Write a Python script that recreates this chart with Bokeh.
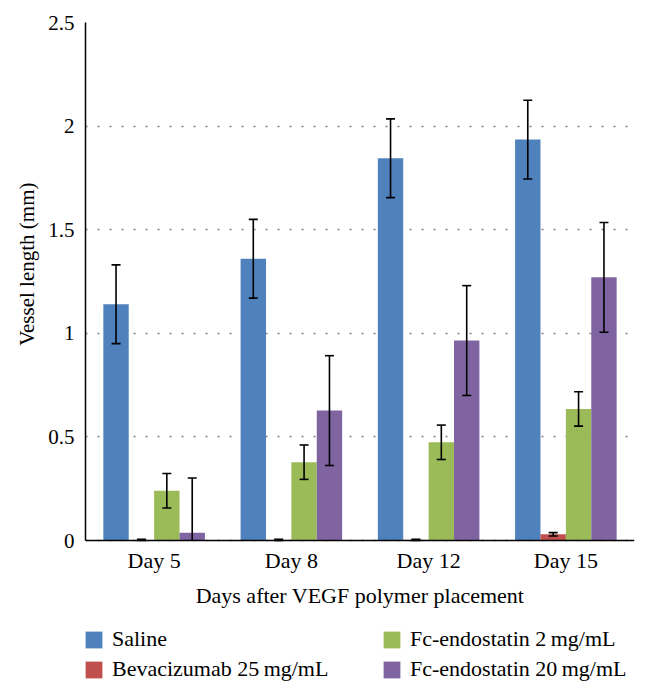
from bokeh.plotting import figure
from bokeh.models import (ColumnDataSource, FactorRange, Range1d, Legend, LegendItem,
                          FixedTicker, CategoricalAxis, Title)
from bokeh.transform import dodge
from bokeh.embed import file_html
from bokeh.resources import INLINE

# ---- data ----
days = ["Day 5", "Day 8", "Day 12", "Day 15"]
series_names = ["Saline", "Bevacizumab 25\u2009mg/mL",
                "Fc-endostatin 2\u2009mg/mL", "Fc-endostatin 20\u2009mg/mL"]
saline = [1.14, 1.36, 1.845, 1.935]
saline_err = [0.19, 0.19, 0.19, 0.19]
bevacizumab = [0.003, 0.003, 0.003, 0.03]
bevacizumab_err = [0.003, 0.003, 0.003, 0.008]
fc_endo_2 = [0.24, 0.378, 0.474, 0.635]
fc_endo_2_err = [0.083, 0.083, 0.083, 0.083]
fc_endo_20 = [0.037, 0.627, 0.965, 1.27]
fc_endo_20_err = [0.265, 0.265, 0.265, 0.265]
y_ticks = [0, 0.5, 1, 1.5, 2, 2.5]
y_tick_labels = ["0", "0.5", "1", "1.5", "2", "2.5"]

colors = ["#4F81BD", "#C0504D", "#9BBB59", "#8064A2"]
FONT = "Liberation Serif"

# layout (pixels)
W, H = 648, 695
LEFT, RIGHT, TOP = 85, 14, 22
ZERO_PX = 540                     # pixel row of the value axis origin
Y_MAX = 2.5
px_per_unit = (ZERO_PX - TOP) / Y_MAX
y_min = -(H - ZERO_PX) / px_per_unit   # room below the axis for labels & legend

p = figure(x_range=FactorRange(factors=days), y_range=Range1d(y_min, Y_MAX),
           width=W, height=H, output_backend="svg", toolbar_location=None,
           x_axis_location=None,
           min_border_left=LEFT, min_border_right=RIGHT, min_border_top=TOP,
           min_border_bottom=0)
p.outline_line_color = None
p.background_fill_color = "white"

bw = 0.185
offsets = [-1.5 * bw, -0.5 * bw, 0.5 * bw, 1.5 * bw]
vals = [saline, bevacizumab, fc_endo_2, fc_endo_20]
errs = [saline_err, bevacizumab_err, fc_endo_2_err, fc_endo_20_err]

renderers = []
for v, c, off in zip(vals, colors, offsets):
    src = ColumnDataSource(dict(day=days, val=v))
    r = p.vbar(x=dodge("day", off, range=p.x_range), top="val", width=bw,
               source=src, fill_color=c, line_color=None)
    renderers.append(r)

for v, e, off in zip(vals, errs, offsets):
    lo = [a - b for a, b in zip(v, e)]
    hi = [a + b for a, b in zip(v, e)]
    # error bars are cut at the value axis (as in the original chart)
    src = ColumnDataSource(dict(day=days, lo=[max(x, 0) for x in lo], hi=hi))
    lo_src = ColumnDataSource(dict(day=[d for d, x in zip(days, lo) if x >= 0],
                                   lo=[x for x in lo if x >= 0]))
    xd = dodge("day", off, range=p.x_range)
    p.segment(x0=xd, x1=xd, y0="lo", y1="hi", source=src,
              line_color="black", line_width=1.6)
    p.scatter(x=xd, y="hi", source=src, marker="dash", size=9,
              line_color="black", line_width=1.6)
    p.scatter(x=xd, y="lo", source=lo_src, marker="dash", size=9,
              line_color="black", line_width=1.6)

# x axis drawn at value 0
xax = CategoricalAxis(fixed_location=0)
p.add_layout(xax, "below")

p.yaxis.ticker = FixedTicker(ticks=y_ticks)
p.yaxis.major_label_overrides = {t: l for t, l in zip(y_ticks, y_tick_labels)}
p.yaxis.bounds = (0, Y_MAX)
for ax in (xax, p.yaxis[0]):
    ax.axis_line_color = "black"
    ax.axis_line_width = 1.5
    ax.major_tick_line_color = None
    ax.minor_tick_line_color = None
    ax.major_tick_out = 0
    ax.major_tick_in = 0
    ax.major_label_text_font = FONT
    ax.major_label_text_color = "black"
    ax.axis_label_text_font = FONT
    ax.axis_label_text_font_style = "normal"
    ax.axis_label_text_color = "black"
p.yaxis.major_label_text_font_size = "21px"
xax.major_label_text_font_size = "22px"
xax.axis_label_text_font_size = "22px"
xax.axis_label = "Days after VEGF polymer placement"
p.yaxis.major_label_standoff = 11
xax.major_label_standoff = 7
xax.axis_label_standoff = 7

# y-axis title, placed along the value axis (0 .. 2.5) rather than the whole frame
ytitle = Title(text="Vessel length (mm)", align="right", offset=160,
               text_font=FONT, text_font_size="21px", text_font_style="normal",
               text_color="black")
if "standoff" in Title.properties():
    ytitle.standoff = 14
p.add_layout(ytitle, "left")

p.xgrid.visible = False
p.ygrid.grid_line_color = "#7f7f7f"
p.ygrid.grid_line_dash = "2 10"
p.ygrid.grid_line_width = 1.5

def make_legend(idx, loc):
    return Legend(items=[LegendItem(label=series_names[i], renderers=[renderers[i]])
                         for i in idx],
                  location=loc, orientation="vertical",
                  border_line_color=None, background_fill_alpha=0,
                  padding=0, margin=0, spacing=4,
                  glyph_width=21, glyph_height=21, label_standoff=8,
                  label_text_font=FONT, label_text_font_size="22px",
                  label_height=24, label_text_color="black")

p.add_layout(make_legend([0, 1], (-2, 13)))
p.add_layout(make_legend([2, 3], (296, 13)))

open("out.html", "w").write(file_html(p, INLINE))
